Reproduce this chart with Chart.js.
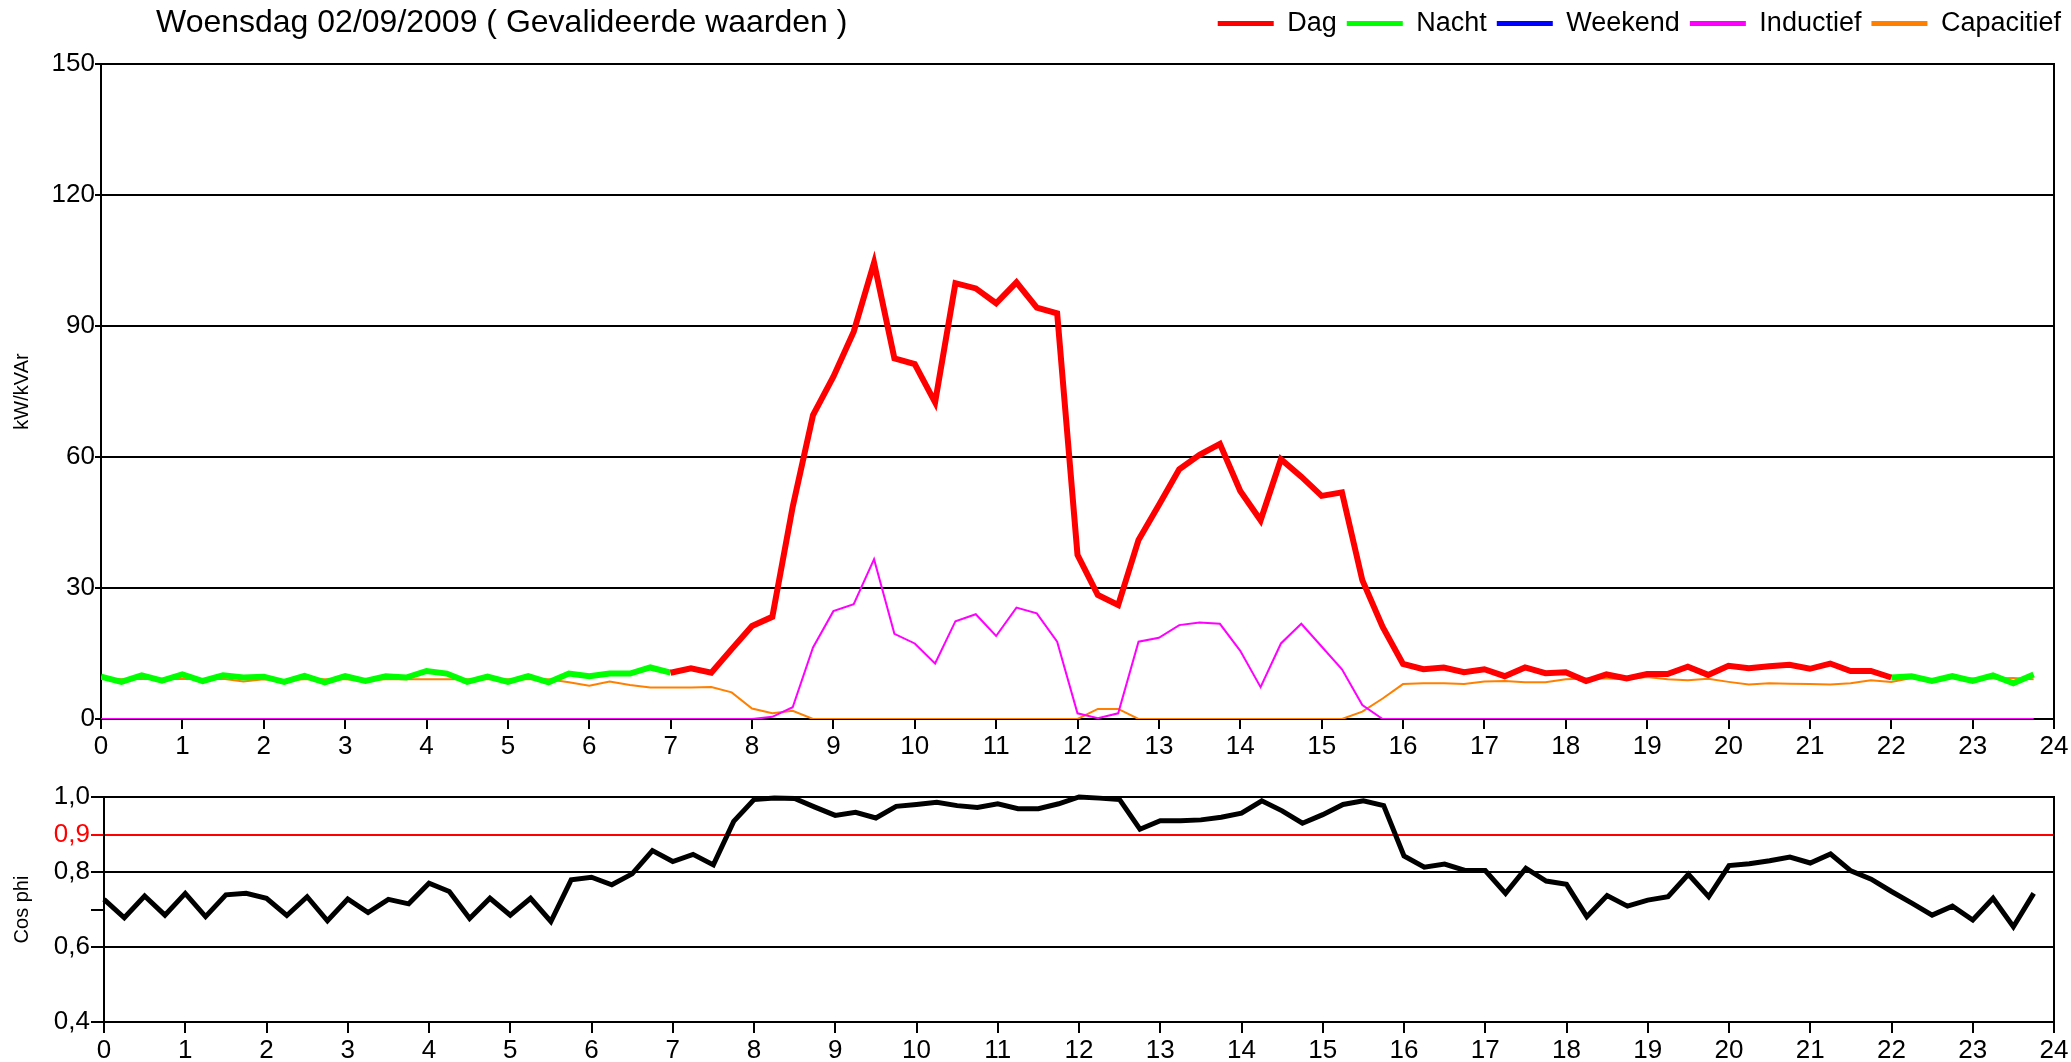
<!DOCTYPE html>
<html>
<head>
<meta charset="utf-8">
<title>Woensdag 02/09/2009</title>
<script src="https://cdn.jsdelivr.net/npm/chart.js@4.4.0/dist/chart.umd.min.js"></script>
<style>
    html, body { margin: 0; padding: 0; background: #fff; }
    body { width: 2071px; height: 1062px; position: relative; overflow: hidden; font-family: 'Liberation Sans', Arial, sans-serif; }
    #titel { position: absolute; left: 156px; top: 5px; font-size: 32px; line-height: 32px; color: #000; white-space: nowrap; }
    #boven { position: absolute; left: 0; top: 0; width: 2071px; height: 770px; }
    #onder { position: absolute; left: 0; top: 766px; width: 2071px; height: 296px; }
</style>
</head>
<body>
<div id="boven"><canvas id="kw-chart"></canvas></div>
<div id="onder"><canvas id="cosphi-chart"></canvas></div>
<div id="titel">Woensdag 02/09/2009 ( Gevalideerde waarden )</div>
<script>
// kwartierwaarden 00:00 - 23:45
const kwartier = Array.from({ length: 96 }, (_, i) => i / 4);
const uurTicks = [0, 24];
const kwTicks = [0, 150, 30];
const cosTicks = [0.4, 0.6, 0.7, 0.8, 0.9, 1.0];

// Dag (rood) 07:00 - 22:00
const dag = [
    null, null, null, null, null, null, null, null, null, null, null, null, null, null,
    null, null, null, null, null, null, null, null, null, null, null, null, null, null,
    10.6, 11.6, 10.6, 16.0, 21.3, 23.4, 48.6, 69.6, 78.4, 88.7, 104.5, 82.6, 81.3, 72.5,
    99.8, 98.6, 95.2, 100.0, 94.2, 92.9, 37.6, 28.4, 26.1, 41.0, 49.0, 57.2, 60.5, 63.0,
    52.2, 45.5, 59.5, 55.5, 51.1, 51.9, 31.8, 21.1, 12.6, 11.4, 11.8, 10.7, 11.4, 9.8,
    11.8, 10.5, 10.7, 8.7, 10.2, 9.3, 10.3, 10.3, 12.0, 10.1, 12.2, 11.6, 12.1, 12.4,
    11.5, 12.7, 11.0, 11.0, 9.5, null, null, null, null, null, null, null
];

// Nacht (groen)
const nacht = [
    9.7, 8.5, 10.0, 8.8, 10.2, 8.7, 10.0, 9.5, 9.7, 8.5, 9.9, 8.4, 9.8, 8.7,
    9.8, 9.5, 11.0, 10.4, 8.5, 9.7, 8.5, 9.8, 8.4, 10.4, 9.8, 10.4, 10.4, 11.8,
    10.6, null, null, null, null, null, null, null, null, null, null, null, null, null,
    null, null, null, null, null, null, null, null, null, null, null, null, null, null,
    null, null, null, null, null, null, null, null, null, null, null, null, null, null,
    null, null, null, null, null, null, null, null, null, null, null, null, null, null,
    null, null, null, null, 9.5, 9.8, 8.7, 9.8, 8.7, 10.0, 8.2, 10.2
];

// Weekend (blauw) - geen waarden op woensdag
const weekend = new Array(96).fill(null);

// Inductief (magenta)
const inductief = [
    0, 0, 0, 0, 0, 0, 0, 0, 0, 0, 0, 0, 0, 0,
    0, 0, 0, 0, 0, 0, 0, 0, 0, 0, 0, 0, 0, 0,
    0, 0, 0, 0, 0, 0.5, 2.7, 16.4, 24.7, 26.3, 36.6, 19.5, 17.3, 12.7,
    22.4, 24.0, 19.0, 25.5, 24.2, 17.7, 1.3, 0.2, 1.3, 17.7, 18.6, 21.5, 22.1, 21.8,
    15.6, 7.3, 17.3, 21.8, 16.6, 11.4, 3.2, 0, 0, 0, 0, 0, 0, 0,
    0, 0, 0, 0, 0, 0, 0, 0, 0, 0, 0, 0, 0, 0,
    0, 0, 0, 0, 0, 0, 0, 0, 0, 0, 0, 0
];

// Capacitief (oranje)
const capacitief = [
    9.2, 9.1, 9.2, 9.1, 9.2, 9.1, 9.2, 8.6, 9.1, 8.9, 9.1, 9.1, 9.1, 8.9,
    9.1, 9.1, 9.1, 9.1, 9.1, 9.1, 9.1, 9.1, 9.1, 8.4, 7.6, 8.6, 7.8, 7.2,
    7.2, 7.2, 7.3, 6.1, 2.4, 1.3, 1.9, 0, 0, 0, 0, 0, 0, 0,
    0, 0, 0, 0, 0, 0, 0, 2.3, 2.3, 0, 0, 0, 0, 0,
    0, 0, 0, 0, 0, 0, 1.7, 4.7, 8.0, 8.2, 8.2, 8.0, 8.6, 8.7,
    8.4, 8.4, 9.1, 9.3, 9.3, 9.1, 9.6, 9.1, 8.9, 9.2, 8.5, 7.9, 8.2, 8.1,
    8.0, 7.9, 8.2, 8.9, 8.5, 9.4, 9.1, 9.5, 9.3, 9.3, 9.4, 9.1
];

// Cos phi (zwart)
const cosPhi = [
    0.727, 0.678, 0.736, 0.685, 0.743, 0.681, 0.739, 0.743, 0.730, 0.684, 0.734, 0.670, 0.728, 0.692,
    0.727, 0.715, 0.770, 0.748, 0.676, 0.730, 0.685, 0.730, 0.668, 0.779, 0.786, 0.766, 0.795, 0.857,
    0.828, 0.847, 0.819, 0.935, 0.993, 0.997, 0.996, 0.973, 0.951, 0.959, 0.944, 0.975, 0.980, 0.986,
    0.977, 0.972, 0.982, 0.969, 0.969, 0.982, 1.000, 0.997, 0.993, 0.914, 0.937, 0.937, 0.939, 0.946,
    0.957, 0.990, 0.963, 0.930, 0.953, 0.980, 0.990, 0.977, 0.843, 0.813, 0.821, 0.804, 0.804, 0.743,
    0.810, 0.776, 0.767, 0.681, 0.737, 0.709, 0.725, 0.734, 0.794, 0.734, 0.817, 0.822, 0.830, 0.840,
    0.824, 0.848, 0.803, 0.781, 0.748, 0.717, 0.685, 0.709, 0.672, 0.730, 0.654, 0.743
];

Chart.defaults.font.family = "'Liberation Sans', Arial, sans-serif";
Chart.defaults.color = '#000';

function punten(reeks) {
    return reeks.map((v, i) => ({ x: kwartier[i], y: v }));
}

function lijn(label, reeks, kleur, dikte) {
    return {
        label: label,
        data: punten(reeks),
        borderColor: kleur,
        backgroundColor: kleur,
        borderWidth: dikte,
        pointRadius: 0,
        tension: 0,
        spanGaps: false,
        borderJoinStyle: 'miter',
        xAxisID: 'x',
        yAxisID: 'y'
    };
}

function uurAs(hoogte, streep) {
    return {
        type: 'linear',
        position: 'bottom',
        min: uurTicks[0],
        max: uurTicks[1],
        ticks: { stepSize: 1, autoSkip: false, maxRotation: 0, font: { size: 26 }, padding: 2, color: '#000' },
        grid: { drawOnChartArea: false, drawTicks: true, tickLength: streep, color: '#000', lineWidth: 2 },
        border: { display: true, color: '#000', width: 2 },
        afterFit: function(scale) { scale.height = hoogte; }
    };
}

function randAs(min, max) {
    return {
        type: 'linear',
        position: 'right',
        min: min,
        max: max,
        ticks: { display: false },
        grid: { display: false },
        border: { display: true, color: '#000', width: 2 },
        afterFit: function(scale) { scale.width = 17; }
    };
}

/**
 * kW / kVAr grafiek
 */
function initKwChart() {
    const ctx = document.getElementById('kw-chart');
    return new Chart(ctx, {
        type: 'line',
        data: {
            datasets: [
                lijn('Dag', dag, '#ff0000', 6),
                lijn('Nacht', nacht, '#00ff00', 6),
                lijn('Weekend', weekend, '#0000ff', 6),
                lijn('Inductief', inductief, '#ff00ff', 2),
                lijn('Capacitief', capacitief, '#ff8000', 2)
            ]
        },
        options: {
            responsive: true,
            maintainAspectRatio: false,
            animation: false,
            devicePixelRatio: 1,
            layout: { padding: { top: 0, left: 0, right: 0, bottom: 0 } },
            plugins: {
                legend: {
                    position: 'top',
                    align: 'end',
                    labels: {
                        boxWidth: 56,
                        boxHeight: 5,
                        padding: 10,
                        color: '#000',
                        font: { size: 27 },
                        generateLabels: function(chart) {
                            return Chart.defaults.plugins.legend.labels.generateLabels(chart).map(l => {
                                l.lineWidth = 0;
                                l.fillStyle = l.strokeStyle;
                                return l;
                            });
                        }
                    }
                },
                tooltip: { enabled: false }
            },
            scales: {
                x: uurAs(51, 10),
                xTop: {
                    type: 'linear',
                    axis: 'x',
                    position: 'top',
                    ticks: { display: false },
                    grid: { display: false },
                    border: { display: false },
                    afterFit: function(scale) { scale.height = 17; }
                },
                y: {
                    type: 'linear',
                    min: kwTicks[0],
                    max: kwTicks[1],
                    ticks: { stepSize: kwTicks[2], font: { size: 26 }, padding: 0, color: '#000' },
                    grid: { color: '#000', lineWidth: 2, drawTicks: true, tickLength: 6 },
                    border: { display: true, color: '#000', width: 2 },
                    title: { display: true, text: 'kW/kVAr', font: { size: 20 }, padding: { top: 10, bottom: 0 } },
                    afterFit: function(scale) { scale.width = 101; }
                },
                yr: randAs(kwTicks[0], kwTicks[1])
            }
        }
    });
}

/**
 * Cos phi grafiek
 */
function initCosPhiChart() {
    const ctx = document.getElementById('cosphi-chart');
    const dataset = lijn('Cos phi', cosPhi, '#000', 5);
    dataset.clip = 6;
    return new Chart(ctx, {
        type: 'line',
        data: { datasets: [dataset] },
        options: {
            responsive: true,
            maintainAspectRatio: false,
            animation: false,
            devicePixelRatio: 1,
            layout: { padding: { top: 31, left: 0, right: 0, bottom: 0 } },
            plugins: { legend: { display: false }, tooltip: { enabled: false } },
            scales: {
                x: uurAs(40, 11),
                y: {
                    type: 'linear',
                    min: cosTicks[0],
                    max: cosTicks[cosTicks.length - 1],
                    afterBuildTicks: function(scale) {
                        scale.ticks = cosTicks.map(v => ({ value: v }));
                    },
                    ticks: {
                        font: { size: 26 },
                        padding: 1,
                        color: c => (c.tick && c.tick.value === 0.9) ? '#ff0000' : '#000',
                        callback: v => v === 0.7 ? '' : v.toFixed(1).replace('.', ',')
                    },
                    grid: {
                        lineWidth: 2,
                        drawTicks: true,
                        tickLength: 13,
                        color: c => {
                            if (!c.tick) return '#000';
                            if (c.tick.value === 0.9) return '#ff0000';
                            if (c.tick.value === 0.7) return 'rgba(0,0,0,0)';
                            return '#000';
                        },
                        tickColor: c => (c.tick && c.tick.value === 0.9) ? '#ff0000' : '#000'
                    },
                    border: { display: true, color: '#000', width: 2 },
                    title: { display: true, text: 'Cos phi', font: { size: 20 }, padding: { top: 10, bottom: 0 } },
                    afterFit: function(scale) { scale.width = 104; }
                },
                yr: randAs(cosTicks[0], cosTicks[cosTicks.length - 1])
            }
        }
    });
}

initKwChart();
initCosPhiChart();
</script>
</body>
</html>
